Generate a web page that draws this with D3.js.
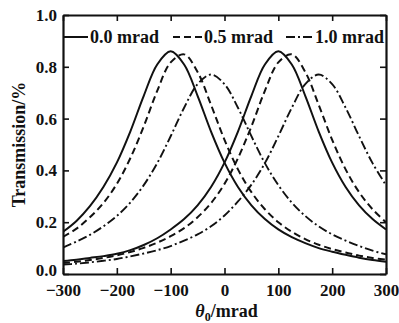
<!DOCTYPE html>
<html>
<head>
<meta charset="utf-8">
<script src="https://d3js.org/d3.v7.min.js"></script>
<style>
  * { margin: 0; padding: 0; }
  body { background: #fff; }
  text { font-family: 'Liberation Serif', 'Times New Roman', serif; font-weight: bold; }
</style>
</head>
<body>
<div id="chart"></div>
<script>
// theta_0 in mrad
var theta = [-300,-275,-250,-225,-200,-175,-150,-125,-100,-75,-50,-25,0,25,50,75,100,125,150,175,200,225,250,275,300];

// 0.0 mrad
var solidA = [0.163,0.205,0.262,0.336,0.430,0.550,0.688,0.809,0.860,0.809,0.688,0.550,0.430,0.336,0.265,0.212,0.172,0.142,0.119,0.100,0.086,0.074,0.063,0.054,0.047];
var solidB = [0.050,0.055,0.062,0.069,0.078,0.092,0.112,0.138,0.172,0.212,0.265,0.336,0.430,0.550,0.688,0.809,0.860,0.809,0.688,0.550,0.430,0.336,0.265,0.212,0.172];
// 0.5 mrad
var dashA = [0.143,0.175,0.219,0.274,0.348,0.447,0.570,0.707,0.817,0.848,0.780,0.653,0.518,0.404,0.316,0.250,0.200,0.163,0.135,0.113,0.096,0.083,0.071,0.062,0.055];
var dashB = [0.042,0.047,0.054,0.062,0.072,0.085,0.101,0.121,0.146,0.177,0.219,0.274,0.348,0.447,0.570,0.707,0.817,0.848,0.780,0.653,0.518,0.404,0.316,0.250,0.200];
// 1.0 mrad
var dotA = [0.102,0.125,0.151,0.184,0.224,0.276,0.343,0.428,0.532,0.642,0.733,0.770,0.733,0.642,0.532,0.428,0.343,0.276,0.224,0.184,0.153,0.129,0.108,0.090,0.076];
var dotB = [0.036,0.040,0.045,0.051,0.058,0.068,0.079,0.092,0.108,0.129,0.153,0.184,0.226,0.280,0.345,0.428,0.532,0.642,0.733,0.770,0.733,0.642,0.532,0.428,0.343];

var xTicks = [-300,-200,-100,0,100,200,300];
var yTicks = [0,0.2,0.4,0.6,0.8,1.0];
var legendNames = ["0.0 mrad","0.5 mrad","1.0 mrad"];

var w = 399, h = 323;
var m = {left: 63, top: 15, right: 13, bottom: 49};

var svg = d3.select("#chart").append("svg")
  .attr("width", w).attr("height", h);

var x = d3.scaleLinear().domain([-300,300]).range([m.left, w - m.right]);
var y = d3.scaleLinear().domain([0,1]).range([h - m.bottom, m.top]);

svg.append("clipPath").attr("id","clip")
  .append("rect")
  .attr("x", m.left).attr("y", m.top)
  .attr("width", w - m.left - m.right).attr("height", h - m.top - m.bottom);

var styles = [
  {dash: null, width: 2},
  {dash: "7,4", width: 2},
  {dash: "9,3,2,3", width: 1.9}
];

var series = [
  {vals: solidA, s: 0}, {vals: solidB, s: 0},
  {vals: dashA, s: 1}, {vals: dashB, s: 1},
  {vals: dotA, s: 2}, {vals: dotB, s: 2}
];

var line = d3.line()
  .x(function(d, i){ return x(theta[i]); })
  .y(function(d){ return y(d); })
  .curve(d3.curveCatmullRom.alpha(0.5));

var g = svg.append("g").attr("clip-path","url(#clip)");
series.forEach(function(sr){
  g.append("path")
    .attr("d", line(sr.vals))
    .attr("fill","none")
    .attr("stroke","#111")
    .attr("stroke-width", styles[sr.s].width)
    .attr("stroke-dasharray", styles[sr.s].dash);
});

// axes, ticks pointing inward
var xb = svg.append("g").attr("transform","translate(0," + (h - m.bottom) + ")")
  .call(d3.axisBottom(x).tickValues(xTicks).tickSize(-6).tickPadding(10).tickSizeOuter(0));
var xt = svg.append("g").attr("transform","translate(0," + m.top + ")")
  .call(d3.axisTop(x).tickValues(xTicks).tickSize(-6).tickFormat("").tickSizeOuter(0));
var yl = svg.append("g").attr("transform","translate(" + m.left + ",0)")
  .call(d3.axisLeft(y).tickValues(yTicks).tickSize(-6).tickPadding(6).tickFormat(d3.format(".1f")).tickSizeOuter(0));
var yr = svg.append("g").attr("transform","translate(" + (w - m.right) + ",0)")
  .call(d3.axisRight(y).tickValues(yTicks).tickSize(-6).tickFormat("").tickSizeOuter(0));

[xb, xt, yl, yr].forEach(function(a){
  a.select(".domain").attr("stroke","#111").attr("stroke-width",2.2);
  a.selectAll(".tick line").attr("stroke","#111").attr("stroke-width",1.6);
  a.selectAll(".tick text")
    .attr("fill","#111")
    .style("font-family","'Liberation Serif', serif")
    .style("font-weight","bold")
    .style("font-size","17px");
});
// lift the bottom "0.0" a little, as in the original
yl.selectAll(".tick text").filter(function(d){ return d === 0; }).attr("dy","0.1em");

// legend
var legX = [[64,88,90],[173,203,204],[286,314,315]];
legendNames.forEach(function(name, i){
  svg.append("line")
    .attr("x1", legX[i][0]).attr("x2", legX[i][1])
    .attr("y1", 37).attr("y2", 37)
    .attr("stroke","#111")
    .attr("stroke-width", styles[i].width)
    .attr("stroke-dasharray", styles[i].dash);
  svg.append("text")
    .attr("x", legX[i][2]).attr("y", 43)
    .attr("fill","#111")
    .style("font-size","18px")
    .text(name);
});

// axis titles
svg.append("text")
  .attr("transform","translate(25," + ((m.top + h - m.bottom) / 2) + ") rotate(-90)")
  .attr("text-anchor","middle")
  .attr("fill","#111")
  .style("font-size","18px")
  .text("Transmission/%");

var xl = svg.append("text")
  .attr("x", (m.left + w - m.right) / 2 + 2).attr("y", 317)
  .attr("text-anchor","middle")
  .attr("fill","#111")
  .style("font-size","18px");
xl.append("tspan").style("font-style","italic").text("θ");
xl.append("tspan").attr("dy", 4).style("font-size","12px").text("0");
xl.append("tspan").attr("dy", -4).text("/mrad");
</script>
</body>
</html>
